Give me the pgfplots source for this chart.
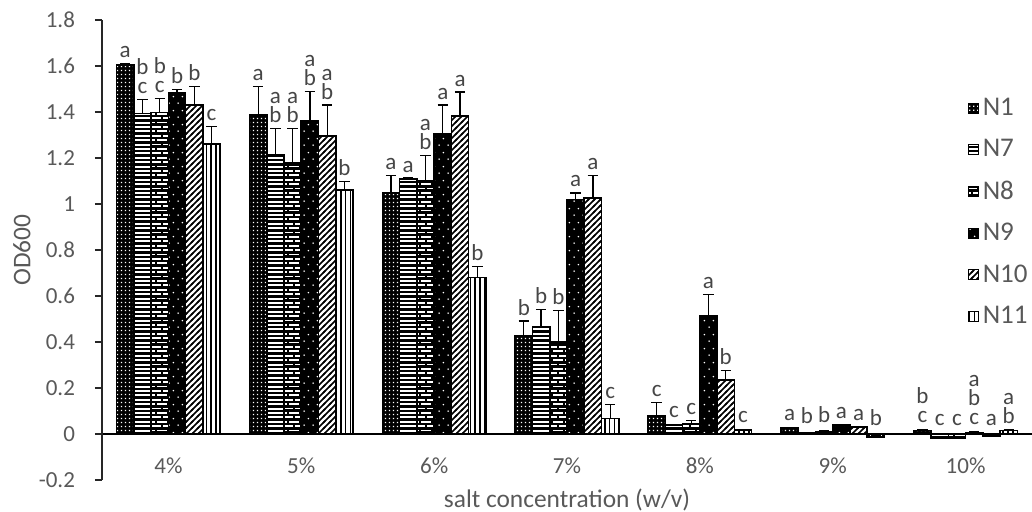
\documentclass[border=0pt]{standalone}
\usepackage{fontspec}
\setmainfont{Carlito}
\usepackage{pgfplots}
\pgfplotsset{compat=1.18}
\usepackage{pgfplotstable}
\usetikzlibrary{patterns}

\definecolor{labelgray}{RGB}{89,89,89}
\definecolor{lettergray}{RGB}{70,70,70}

\pgfdeclarepatternformonly{fdots}{\pgfqpoint{0pt}{0pt}}{\pgfqpoint{2pt}{2pt}}{\pgfqpoint{2pt}{2pt}}{%
  \pgfpathrectangle{\pgfqpoint{0.6pt}{0.6pt}}{\pgfqpoint{0.8pt}{0.8pt}}\pgfusepath{fill}}
\pgfdeclarepatternformonly{hlinesD}{\pgfqpoint{0pt}{-1pt}}{\pgfqpoint{4pt}{1pt}}{\pgfqpoint{4pt}{2.2pt}}{%
  \pgfsetlinewidth{1.15pt}\pgfpathmoveto{\pgfqpoint{0pt}{0pt}}\pgfpathlineto{\pgfqpoint{4pt}{0pt}}\pgfusepath{stroke}}
\pgfdeclarepatternformonly{vlinesD}{\pgfqpoint{-1pt}{0pt}}{\pgfqpoint{1pt}{4pt}}{\pgfqpoint{2.4pt}{4pt}}{%
  \pgfsetlinewidth{0.75pt}\pgfpathmoveto{\pgfqpoint{0pt}{0pt}}\pgfpathlineto{\pgfqpoint{0pt}{4pt}}\pgfusepath{stroke}}
\pgfdeclarepatternformonly{nelinesD}{\pgfqpoint{-1pt}{-1pt}}{\pgfqpoint{4pt}{4pt}}{\pgfqpoint{3pt}{3pt}}{%
  \pgfsetlinewidth{0.85pt}\pgfpathmoveto{\pgfqpoint{-0.5pt}{-0.5pt}}\pgfpathlineto{\pgfqpoint{3.5pt}{3.5pt}}\pgfusepath{stroke}}
\pgfdeclarepatternformonly{sdots}{\pgfqpoint{0pt}{0pt}}{\pgfqpoint{4.4pt}{7pt}}{\pgfqpoint{4.4pt}{7pt}}{%
  \pgfpathcircle{\pgfqpoint{1.1pt}{1.5pt}}{0.45pt}\pgfpathcircle{\pgfqpoint{3.3pt}{5pt}}{0.45pt}\pgfusepath{fill}}
\pgfdeclarepatternformonly{mybricks}{\pgfqpoint{-1pt}{-1pt}}{\pgfqpoint{7pt}{5.4pt}}{\pgfqpoint{6pt}{4.4pt}}{%
  \pgfsetlinewidth{1.3pt}%
  \pgfpathmoveto{\pgfqpoint{-0.5pt}{0pt}}\pgfpathlineto{\pgfqpoint{6.5pt}{0pt}}%
  \pgfpathmoveto{\pgfqpoint{-0.5pt}{2.2pt}}\pgfpathlineto{\pgfqpoint{6.5pt}{2.2pt}}%
  \pgfpathmoveto{\pgfqpoint{0pt}{0pt}}\pgfpathlineto{\pgfqpoint{0pt}{2.2pt}}%
  \pgfpathmoveto{\pgfqpoint{3pt}{2.2pt}}\pgfpathlineto{\pgfqpoint{3pt}{4.4pt}}%
  \pgfusepath{stroke}}

\makeatletter
\def\stk#1{\vbox{\offinterlineskip\stk@#1\relax}}
\def\stk@#1{\ifx#1\relax\else\hbox to 6pt{\hss\vrule height 9.4pt depth 0pt width 0pt #1\hss}\expandafter\stk@\fi}
\makeatother

\pgfplotstableread{
x y err off lab
0 1.605 0.005 0.005 a
1 1.386 0.124 0.124 a
2 1.048 0.076 0.076 a
3 0.425 0.066 0.066 b
4 0.079 0.058 0.058 c
5 0.025 0.004 0.006 a
6 0.015 0.004 0.008 bc
}\dataNone
\pgfplotstableread{
x y err off lab
0 1.393 0.060 0.060 bc
1 1.214 0.114 0.114 ab
2 1.109 0.004 0.004 a
3 0.464 0.077 0.077 b
4 0.039 0.004 0.006 c
5 0.005 0.003 0.016 b
6 -0.017 0.004 0.030 c
}\dataNseven
\pgfplotstableread{
x y err off lab
0 1.397 0.060 0.060 bc
1 1.178 0.150 0.150 ab
2 1.102 0.110 0.110 ab
3 0.400 0.138 0.138 b
4 0.044 0.014 0.014 c
5 0.010 0.004 0.012 b
6 -0.017 0.004 0.030 c
}\dataNeight
\pgfplotstableread{
x y err off lab
0 1.485 0.013 0.013 b
1 1.360 0.130 0.130 ab
2 1.306 0.124 0.124 a
3 1.020 0.028 0.028 a
4 0.512 0.095 0.095 a
5 0.039 0.004 0.004 a
6 0.006 0.004 0.008 abc
}\dataNnine
\pgfplotstableread{
x y err off lab
0 1.430 0.080 0.080 b
1 1.296 0.134 0.134 ab
2 1.383 0.104 0.104 a
3 1.025 0.100 0.100 a
4 0.236 0.040 0.040 b
5 0.030 0.004 0.004 a
6 -0.010 0.004 0.022 a
}\dataNten
\pgfplotstableread{
x y err off lab
0 1.262 0.076 0.076 c
1 1.062 0.037 0.037 b
2 0.680 0.048 0.048 b
3 0.068 0.060 0.060 c
4 0.017 0.004 0.006 c
5 -0.012 0.004 0.024 b
6 0.015 0.004 0.006 ab
}\dataNeleven

\begin{document}
\begin{tikzpicture}
\useasboundingbox (-51pt,-16pt) rectangle (465pt,240pt);
\begin{axis}[
  scale only axis,
  width=465pt, height=230pt,
  at={(0,0)}, anchor=south west,
  xmin=-0.5, xmax=6.5,
  ymin=-0.2, ymax=1.8,
  clip=false,
  axis x line=middle,
  axis y line=left,
  hide obscured x ticks=false,
  hide obscured y ticks=false,
  axis line style={-},
  x axis line style={black, line width=1pt},
  y axis line style={black!85, line width=0.6pt},
  ytick={-0.2,0,0.2,0.4,0.6,0.8,1,1.2,1.4,1.6,1.8},
  yticklabels={-0.2,0,0.2,0.4,0.6,0.8,1,1.2,1.4,1.6,1.8},
  tick align=outside,
  major tick length=3.5pt,
  y tick style={black!85, line width=0.6pt},
  xtick={0,1,2,3,4,5,6},
  xticklabels={4\%,5\%,6\%,7\%,8\%,9\%,10\%},
  x tick style={draw=none},
  yticklabel style={font=\fontsize{11.5}{13}\selectfont, text=labelgray, xshift=-6.5pt},
  xticklabel style={font=\fontsize{11.5}{13}\selectfont, text=labelgray, yshift=-5pt},
  xlabel={salt concentration (w/v)},
  ylabel={OD600},
  every axis x label/.style={at={([yshift=-10pt]axis description cs:0.5,0)}, anchor=center, font=\fontsize{12.7}{14}\selectfont, text=labelgray},
  every axis y label/.style={at={([xshift=-40pt]axis description cs:0,0.5)}, anchor=center, rotate=90, font=\fontsize{12.7}{14}\selectfont, text=labelgray},
  ybar=0pt,
  bar width=0.13,
  point meta=explicit symbolic,
  visualization depends on={\thisrow{off}\as\off},
  nodes near coords={\expandafter\stk\expandafter{\pgfplotspointmeta}},
  nodes near coords style={anchor=south, shift={(axis direction cs:0,\off)}, yshift=2pt, inner sep=0.5pt, font=\fontsize{11.5}{13}\selectfont, text=lettergray},
  error bars/y dir=plus,
  error bars/y explicit,
  error bars/error bar style={black, line width=0.6pt},
  error bars/error mark options={black, rotate=90, mark size=2.6pt, line width=0.6pt},
  legend style={draw=none, fill=none, at={(1,0.84)}, anchor=north east,
    font=\fontsize{13.5}{15}\selectfont, text=labelgray, row sep=6.5pt, inner sep=0pt,
    nodes={inner xsep=2pt}},
  legend cell align=left,
  legend image code/.code={\draw[#1, line width=0.5pt] (0pt,-2.5pt) rectangle (5pt,2.5pt);},
]
\addplot[draw=black, line width=0.8pt, fill=black, postaction={pattern=fdots, pattern color=white}]
  table[x=x, y=y, y error=err, meta=lab] {\dataNone};
\addplot[draw=black, line width=0.8pt, fill=white, postaction={pattern=hlinesD, pattern color=black}]
  table[x=x, y=y, y error=err, meta=lab] {\dataNseven};
\addplot[draw=black, line width=0.8pt, fill=white, postaction={pattern=mybricks, pattern color=black}]
  table[x=x, y=y, y error=err, meta=lab] {\dataNeight};
\addplot[draw=black, line width=0.8pt, fill=black, postaction={pattern=sdots, pattern color=white}]
  table[x=x, y=y, y error=err, meta=lab] {\dataNnine};
\addplot[draw=black, line width=0.8pt, fill=white, postaction={pattern=nelinesD, pattern color=black}]
  table[x=x, y=y, y error=err, meta=lab] {\dataNten};
\addplot[draw=black, line width=0.8pt, fill=white, postaction={pattern=vlinesD, pattern color=black}]
  table[x=x, y=y, y error=err, meta=lab] {\dataNeleven};
\legend{N1,N7,N8,N9,N10,N11}
\end{axis}
\end{tikzpicture}
\end{document}
